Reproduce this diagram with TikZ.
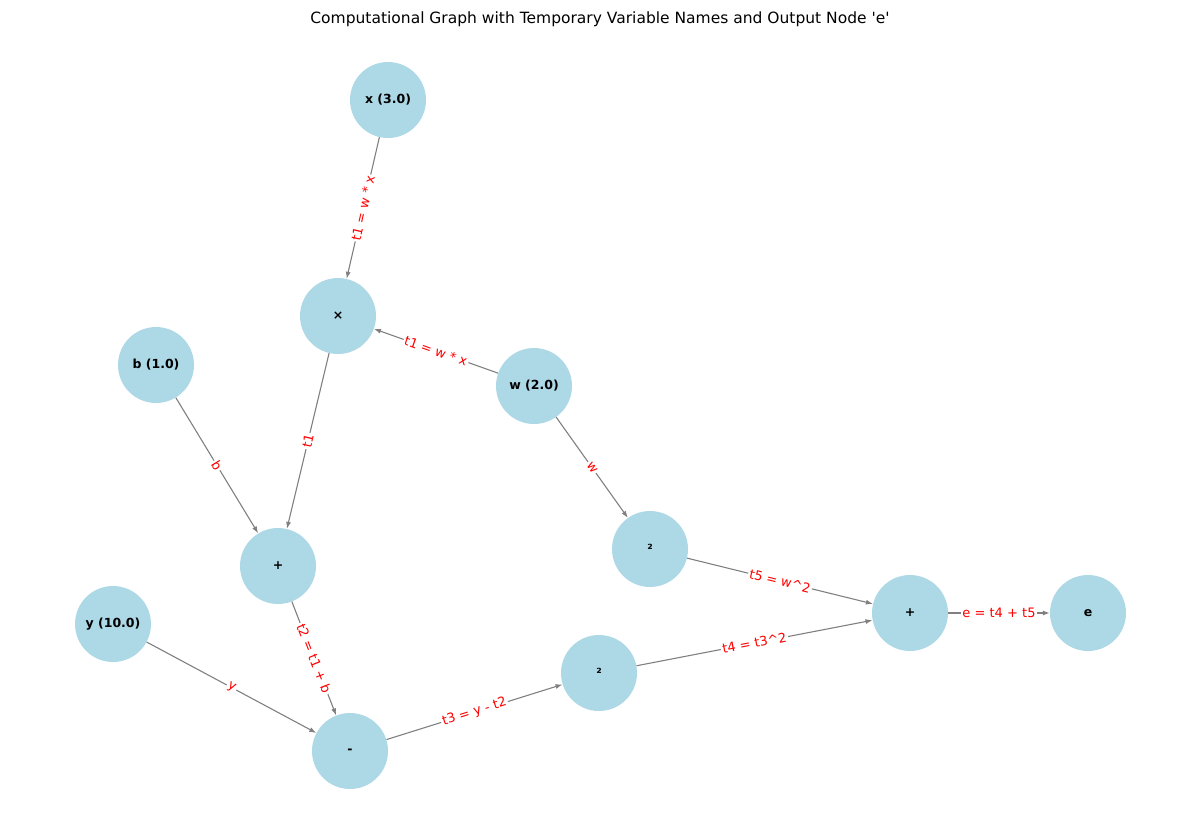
\documentclass[tikz,border=0pt]{standalone}
\usepackage{fontspec}
\setmainfont{DejaVu Sans}
\usetikzlibrary{arrows.meta}
\definecolor{lb}{RGB}{173,216,230}
\begin{document}
\begin{tikzpicture}[x=1pt,y=-1pt,
  nd/.style={circle,fill=lb,minimum size=76pt,inner sep=0pt,font=\fontsize{12.5}{14}\selectfont\bfseries},
  ed/.style={draw=gray,line width=1.1pt,-{Latex[length=7pt,width=5pt]}},
  lab/.style={sloped,midway,fill=white,inner sep=1.5pt,text=red,font=\fontsize{13}{15}\selectfont}]
\useasboundingbox (0,0) rectangle (1200,828);
\node[font=\fontsize{15.5}{18}\selectfont] (title) at (600,19) {Computational Graph with Temporary Variable Names and Output Node \textquotesingle e\textquotesingle};
\node[nd] (x) at (388,100) {x (3.0)};
\node[nd] (m) at (338,316) {×};
\node[nd] (b) at (156,365) {b (1.0)};
\node[nd] (w) at (534,386) {w (2.0)};
\node[nd] (sq1) at (650,549) {²};
\node[nd] (p1) at (278,566) {+};
\node[nd] (y) at (113,624) {y (10.0)};
\node[nd] (p2) at (910,613) {+};
\node[nd] (e) at (1088,613) {e};
\node[nd] (sq2) at (599,673) {²};
\node[nd] (mi) at (350,751) {-};
\draw[ed] (x) -- node[lab]{t1 = w * x} (m);
\draw[ed] (w) -- node[lab]{t1 = w * x} (m);
\draw[ed] (b) -- node[lab]{b} (p1);
\draw[ed] (m) -- node[lab]{t1} (p1);
\draw[ed] (w) -- node[lab]{w} (sq1);
\draw[ed] (p1) -- node[lab]{t2 = t1 + b} (mi);
\draw[ed] (y) -- node[lab]{y} (mi);
\draw[ed] (mi) -- node[lab]{t3 = y - t2} (sq2);
\draw[ed] (sq2) -- node[lab]{t4 = t3\textasciicircum 2} (p2);
\draw[ed] (sq1) -- node[lab]{t5 = w\textasciicircum 2} (p2);
\draw[ed] (p2) -- node[lab]{e = t4 + t5} (e);
\end{tikzpicture}
\end{document}
